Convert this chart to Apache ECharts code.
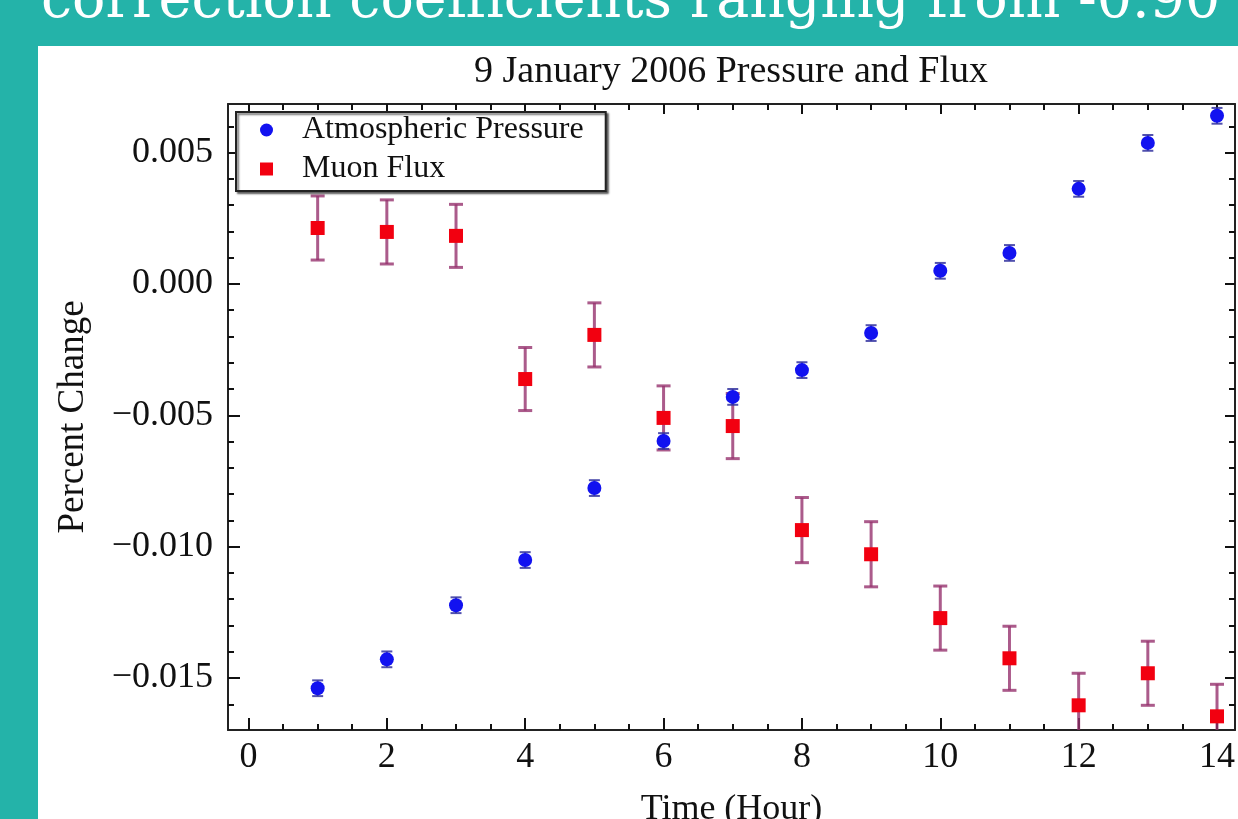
<!DOCTYPE html>
<html>
<head>
<meta charset="utf-8">
<script src="https://cdn.jsdelivr.net/npm/echarts@6/dist/echarts.min.js"></script>
<style>
  html, body { margin: 0; padding: 0; background: #24b3a9; }
  #main { width: 1238px; height: 819px; }
</style>
</head>
<body>
<div id="main"></div>
<script>
// hours on the x axis
var hours = [1, 2, 3, 4, 5, 6, 7, 8, 9, 10, 11, 12, 13, 14];

// atmospheric pressure, percent change, with error
var pressure = [-0.01539, -0.01429, -0.01223, -0.01051, -0.00777, -0.00598, -0.00430,
                -0.00328, -0.00187, 0.00050, 0.00118, 0.00362, 0.00537, 0.00640];
var pressureErr = [0.0003, 0.0003, 0.0003, 0.0003, 0.0003, 0.0003, 0.0003,
                   0.0003, 0.0003, 0.0003, 0.0003, 0.0003, 0.0003, 0.0003];

// muon flux, percent change, with error
var flux = [0.00213, 0.00198, 0.00183, -0.00362, -0.00194, -0.00510, -0.00541,
            -0.00937, -0.01029, -0.01272, -0.01425, -0.01604, -0.01482, -0.01646];
var fluxErr = [0.00122, 0.00122, 0.0012, 0.0012, 0.00122, 0.00122, 0.00124,
               0.00124, 0.00124, 0.00122, 0.00122, 0.00122, 0.00122, 0.00122];

// tick labels
var xTicks = [0, 2, 4, 6, 8, 10, 12, 14];
var yTicks = [-0.015, -0.010, -0.005, 0.000, 0.005];

// minor ticks
var xMinor = [];
for (var i = 0; i <= 28; i++) xMinor.push(i * 0.5);
var yMinor = [];
for (var j = -16; j <= 6; j++) yMinor.push(j / 1000);

var xMin = -0.296, xMax = 14.26;
var yMin = -0.01698, yMax = 0.00685;

var serif = '"Liberation Serif", "Times New Roman", serif';

function pairs(vals) {
    return hours.map(function (h, k) { return [h, vals[k]]; });
}
function bars(vals, errs) {
    return hours.map(function (h, k) { return [h, vals[k] - errs[k], vals[k] + errs[k]]; });
}

// error bar drawer
function errorBar(color, width, cap) {
    return function (params, api) {
        var lo = api.coord([api.value(0), api.value(1)]);
        var hi = api.coord([api.value(0), api.value(2)]);
        var st = { stroke: color, lineWidth: width };
        return {
            type: 'group',
            children: [
                { type: 'line', shape: { x1: lo[0], y1: lo[1], x2: hi[0], y2: hi[1] }, style: st },
                { type: 'line', shape: { x1: lo[0] - cap / 2, y1: lo[1], x2: lo[0] + cap / 2, y2: lo[1] }, style: st },
                { type: 'line', shape: { x1: hi[0] - cap / 2, y1: hi[1], x2: hi[0] + cap / 2, y2: hi[1] }, style: st }
            ]
        };
    };
}

function xAxisCfg(pos, ticks, len, labels, line) {
    return {
        type: 'value', position: pos, min: xMin, max: xMax,
        splitLine: { show: false },
        axisLine: { show: line, onZero: false, lineStyle: { color: '#222', width: 2 } },
        axisTick: { show: true, inside: true, length: len, customValues: ticks,
                    lineStyle: { color: '#111', width: 2 } },
        axisLabel: labels ? {
            show: true, customValues: xTicks, margin: 10,
            fontFamily: serif, fontSize: 36, color: '#111'
        } : { show: false }
    };
}

function yAxisCfg(pos, ticks, len, labels, line) {
    return {
        type: 'value', position: pos, min: yMin, max: yMax,
        splitLine: { show: false },
        axisLine: { show: line, onZero: false, lineStyle: { color: '#222', width: 2 } },
        axisTick: { show: true, inside: true, length: len, customValues: ticks,
                    lineStyle: { color: '#111', width: 2 } },
        axisLabel: labels ? {
            show: true, customValues: yTicks, margin: 15,
            fontFamily: serif, fontSize: 36, color: '#111',
            formatter: function (v) {
                return (v < -1e-9 ? '\u2212' : '') + Math.abs(v).toFixed(3);
            }
        } : { show: false }
    };
}

var xAxes = [
    xAxisCfg('bottom', xTicks, 12, true, true),
    xAxisCfg('bottom', xMinor, 6, false, false),
    xAxisCfg('top', xTicks, 10, false, true),
    xAxisCfg('top', xMinor, 6, false, false)
];
xAxes[0].name = 'Time (Hour)';
xAxes[0].nameLocation = 'middle';
xAxes[0].nameGap = 62;
xAxes[0].nameTextStyle = { fontFamily: serif, fontSize: 36, color: '#111' };

var yAxes = [
    yAxisCfg('left', yTicks, 12, true, true),
    yAxisCfg('left', yMinor, 6, false, false),
    yAxisCfg('right', yTicks, 10, false, true),
    yAxisCfg('right', yMinor, 6, false, false)
];
yAxes[0].name = 'Percent Change';
yAxes[0].nameLocation = 'middle';
yAxes[0].nameGap = 136;
yAxes[0].nameTextStyle = { fontFamily: serif, fontSize: 37, color: '#111' };

var myChart = echarts.init(document.getElementById('main'));

var option = {
    animation: false,
    backgroundColor: '#24b3a9',
    graphic: [
        { type: 'rect', z: -10, shape: { x: 38, y: 46, width: 1200, height: 773 },
          style: { fill: '#ffffff' } },
        { type: 'text', z: -5, x: 41, y: 31,
          style: { text: 'correction coefficients ranging from -0.90', fill: '#ffffff',
                   font: '55.5px "DejaVu Serif", serif', verticalAlign: 'bottom' } }
    ],
    title: {
        text: '9 January 2006 Pressure and Flux',
        left: 726, top: 48, textAlign: 'center',
        textStyle: { fontFamily: serif, fontSize: 38, fontWeight: 'normal', color: '#111' }
    },
    legend: {
        orient: 'vertical', left: 236, top: 112,
        padding: [2, 22, 6, 24],
        itemGap: 7,
        itemWidth: 13, itemHeight: 13,
        backgroundColor: '#ffffff',
        borderColor: '#222', borderWidth: 2,
        shadowColor: 'rgba(0,0,0,0.55)', shadowOffsetX: 2, shadowOffsetY: 2, shadowBlur: 2,
        textStyle: { fontFamily: serif, fontSize: 32, color: '#111', lineHeight: 30,
                     padding: [0, 0, 0, 24] },
        data: ['Atmospheric Pressure', 'Muon Flux']
    },
    grid: { left: 228, right: 3, top: 104, bottom: 89, containLabel: false, outerBoundsMode: 'none' },
    xAxis: xAxes,
    yAxis: yAxes,
    series: [
        {
            name: 'flux-err', type: 'custom', clip: true,
            renderItem: errorBar('rgba(150,50,110,0.8)', 3, 14),
            data: bars(flux, fluxErr), z: 2
        },
        {
            name: 'pressure-err', type: 'custom', clip: true,
            renderItem: errorBar('rgba(50,50,160,0.85)', 2, 11),
            data: bars(pressure, pressureErr), z: 2
        },
        {
            name: 'Atmospheric Pressure', type: 'scatter', symbol: 'circle', symbolSize: 14,
            itemStyle: { color: '#1212f0', opacity: 1 },
            data: pairs(pressure), z: 3
        },
        {
            name: 'Muon Flux', type: 'scatter', symbol: 'rect', symbolSize: 14,
            itemStyle: { color: '#f20010', opacity: 1 },
            data: pairs(flux), z: 4
        }
    ]
};

myChart.setOption(option);
</script>
</body>
</html>
